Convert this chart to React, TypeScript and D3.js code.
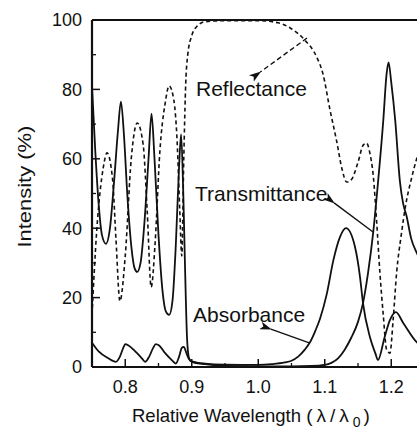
import * as d3 from 'd3'

// wavelengths (λ/λ0) and intensities (%)
const transWl = [0.75, 0.755, 0.76, 0.765, 0.771, 0.777, 0.783, 0.789, 0.7935, 0.798, 0.803, 0.809, 0.814, 0.818, 0.823, 0.829, 0.835, 0.8395, 0.844, 0.85, 0.856, 0.861, 0.866, 0.871, 0.876, 0.881, 0.884, 0.887, 0.89, 0.893, 0.896, 0.9, 0.92, 0.95, 1.0, 1.05, 1.08, 1.1, 1.11, 1.12, 1.13, 1.14, 1.15, 1.1575, 1.165, 1.173, 1.18, 1.188, 1.193, 1.196, 1.2, 1.206, 1.213, 1.218, 1.223, 1.23, 1.238, 1.25]
const transVal = [81, 62, 47, 38, 35.5, 40, 53, 68, 76.5, 67, 50, 35, 28.5, 27.4, 30, 42, 60, 73, 60, 38, 22, 16, 15, 19, 35, 58, 67, 52, 28, 8, 2.5, 1.5, 0.8, 0.3, 0.2, 0.2, 0.3, 0.6, 1.2, 2.5, 5, 8.5, 13, 18.4, 27, 39, 53, 71, 84.5, 87.8, 82, 71, 53.5, 47, 43.5, 37, 33, 29]

const absWl = [0.75, 0.76, 0.774, 0.786, 0.792, 0.797, 0.8, 0.805, 0.815, 0.825, 0.83, 0.836, 0.842, 0.846, 0.851, 0.86, 0.87, 0.876, 0.881, 0.885, 0.888, 0.892, 0.896, 0.9, 0.91, 0.92, 0.95, 1.0, 1.02, 1.04, 1.05, 1.06, 1.07, 1.078, 1.086, 1.093, 1.103, 1.113, 1.123, 1.132, 1.1455, 1.153, 1.1575, 1.168, 1.176, 1.18, 1.19, 1.198, 1.207, 1.218, 1.239, 1.25]
const absVal = [7, 4.5, 2.6, 1.5, 3, 5.5, 6.6, 6.2, 4.5, 2.5, 1.5, 3, 5.5, 6.6, 6.2, 4, 2, 1, 3, 5.5, 5.8, 4, 2.2, 1.6, 1.2, 1, 0.7, 0.6, 0.8, 1.3, 1.8, 3, 5, 7.2, 10.5, 14, 21, 30.8, 37.5, 40, 34.6, 26, 18.4, 8.6, 4, 2, 8.6, 13.5, 15.8, 12.7, 7, 5.5]

const reflWl = [0.75, 0.757, 0.767, 0.7726, 0.781, 0.786, 0.792, 0.8, 0.809, 0.818, 0.827, 0.833, 0.839, 0.845, 0.852, 0.86, 0.866, 0.873, 0.878, 0.882, 0.885, 0.888, 0.891, 0.894, 0.9, 0.907, 0.92, 0.95, 1.0, 1.03, 1.048, 1.07, 1.088, 1.097, 1.108, 1.118, 1.126, 1.133, 1.14, 1.15, 1.158, 1.163, 1.168, 1.173, 1.178, 1.183, 1.188, 1.193, 1.198, 1.203, 1.208, 1.215, 1.222, 1.23, 1.239, 1.25]
const reflVal = [15, 39, 57.5, 61.7, 54, 37, 19, 32, 60, 70.3, 64, 45, 23, 36, 62, 76, 81, 77, 65, 45, 32, 60, 82, 90, 95.5, 98, 99.5, 99.8, 99.8, 99.2, 97.7, 94.2, 89.3, 84.7, 74, 65, 57, 53.3, 54, 59, 64, 64.5, 61.5, 55, 42, 27, 15, 5, 4, 14, 27, 38, 47, 54, 60.5, 66]

const xTicks = [0.8, 0.9, 1.0, 1.1, 1.2]
const xMinor = [0.85, 0.95, 1.05, 1.15, 1.25]
const yTicks = [0, 20, 40, 60, 80, 100]
const yMinor = [10, 30, 50, 70, 90]

const W = 417
const H = 441
const font = 'Liberation Sans, Arial, Helvetica, sans-serif'

const x = d3.scaleLinear().domain([0.75, 1.25]).range([92, 424.5])
const y = d3.scaleLinear().domain([0, 100]).range([367, 20])

const line = d3.line<[number, number]>()
  .x(d => x(d[0]))
  .y(d => y(d[1]))
  .curve(d3.curveMonotoneX)

const zip = (a: number[], b: number[]) => a.map((v, i) => [v, b[i]] as [number, number])

export default function App() {
  const ink = '#111'
  return (
    <svg width={W} height={H} style={{ position: 'absolute', left: 0, top: 0, background: '#fff' }}>
      <defs>
        <marker id="head" viewBox="0 0 12 8" refX="1" refY="4" markerWidth="12" markerHeight="8" markerUnits="userSpaceOnUse" orient="auto-start-reverse">
          <path d="M0,4 L12,0 L9,4 L12,8 Z" fill={ink} />
        </marker>
      </defs>

      {/* curves */}
      <path d={line(zip(transWl, transVal)) ?? ''} fill="none" stroke={ink} strokeWidth={1.8} />
      <path d={line(zip(absWl, absVal)) ?? ''} fill="none" stroke={ink} strokeWidth={1.8} />
      <path d={line(zip(reflWl, reflVal)) ?? ''} fill="none" stroke={ink} strokeWidth={1.6} strokeDasharray="4,3" />

      {/* frame */}
      <line x1={x(0.75)} x2={W} y1={y(100)} y2={y(100)} stroke={ink} strokeWidth={2} />
      <line x1={x(0.75)} x2={W} y1={y(0)} y2={y(0)} stroke={ink} strokeWidth={2.2} />
      <line x1={x(0.75)} x2={x(0.75)} y1={y(100)} y2={y(0)} stroke={ink} strokeWidth={2.2} />

      {/* ticks, pointing inwards */}
      {xTicks.map(t => (
        <g key={'xt' + t}>
          <line x1={x(t)} x2={x(t)} y1={y(0)} y2={y(0) - 8} stroke={ink} strokeWidth={1.5} />
          <text x={x(t)} y={393} textAnchor="middle" fontFamily={font} fontSize={18} fill={ink}>{t.toFixed(1)}</text>
        </g>
      ))}
      {xMinor.map(t => (
        <line key={'xm' + t} x1={x(t)} x2={x(t)} y1={y(0)} y2={y(0) - 4} stroke={ink} strokeWidth={1.3} />
      ))}
      {yTicks.map(t => (
        <g key={'yt' + t}>
          <line x1={x(0.75)} x2={x(0.75) + 8} y1={y(t)} y2={y(t)} stroke={ink} strokeWidth={1.5} />
          <text x={82} y={y(t)} dy="0.36em" textAnchor="end" fontFamily={font} fontSize={18} fill={ink}>{t}</text>
        </g>
      ))}
      {yMinor.map(t => (
        <line key={'ym' + t} x1={x(0.75)} x2={x(0.75) + 4} y1={y(t)} y2={y(t)} stroke={ink} strokeWidth={1.3} />
      ))}

      {/* axis titles */}
      <text transform={`translate(31,${y(52)}) rotate(-90)`} textAnchor="middle" fontFamily={font} fontSize={19} fill={ink} textLength={122} lengthAdjust="spacingAndGlyphs">
        Intensity (%)
      </text>
      <text x={132} y={422} fontFamily={font} fontSize={18.5} fill={ink}>
        Relative Wavelength{' '}
        <tspan fontSize={19} letterSpacing={4}>(λ/λ</tspan>
        <tspan fontSize={14} dy={5}>0</tspan>
        <tspan fontSize={19} dy={-5} dx={3}>)</tspan>
      </text>

      {/* labels with arrows */}
      <text x={x(0.9064)} y={y(78.1)} fontFamily={font} fontSize={21} fill={ink}>Reflectance</text>
      <line x1={x(1.0733)} y1={y(94.8)} x2={x(1.003)} y2={y(85)} stroke={ink} strokeWidth={1.4} strokeDasharray="5,3" markerEnd="url(#head)" />

      <text x={x(0.905)} y={y(47.8)} fontFamily={font} fontSize={21} fill={ink}>Transmittance</text>
      <line x1={x(1.1726)} y1={y(38.9)} x2={x(1.114)} y2={y(47.3)} stroke={ink} strokeWidth={1.4} markerEnd="url(#head)" />

      <text x={x(0.902)} y={y(13)} fontFamily={font} fontSize={21} fill={ink}>Absorbance</text>
      <line x1={x(1.0778)} y1={y(6.9)} x2={x(1.019)} y2={y(10.9)} stroke={ink} strokeWidth={1.4} markerEnd="url(#head)" />
    </svg>
  )
}
